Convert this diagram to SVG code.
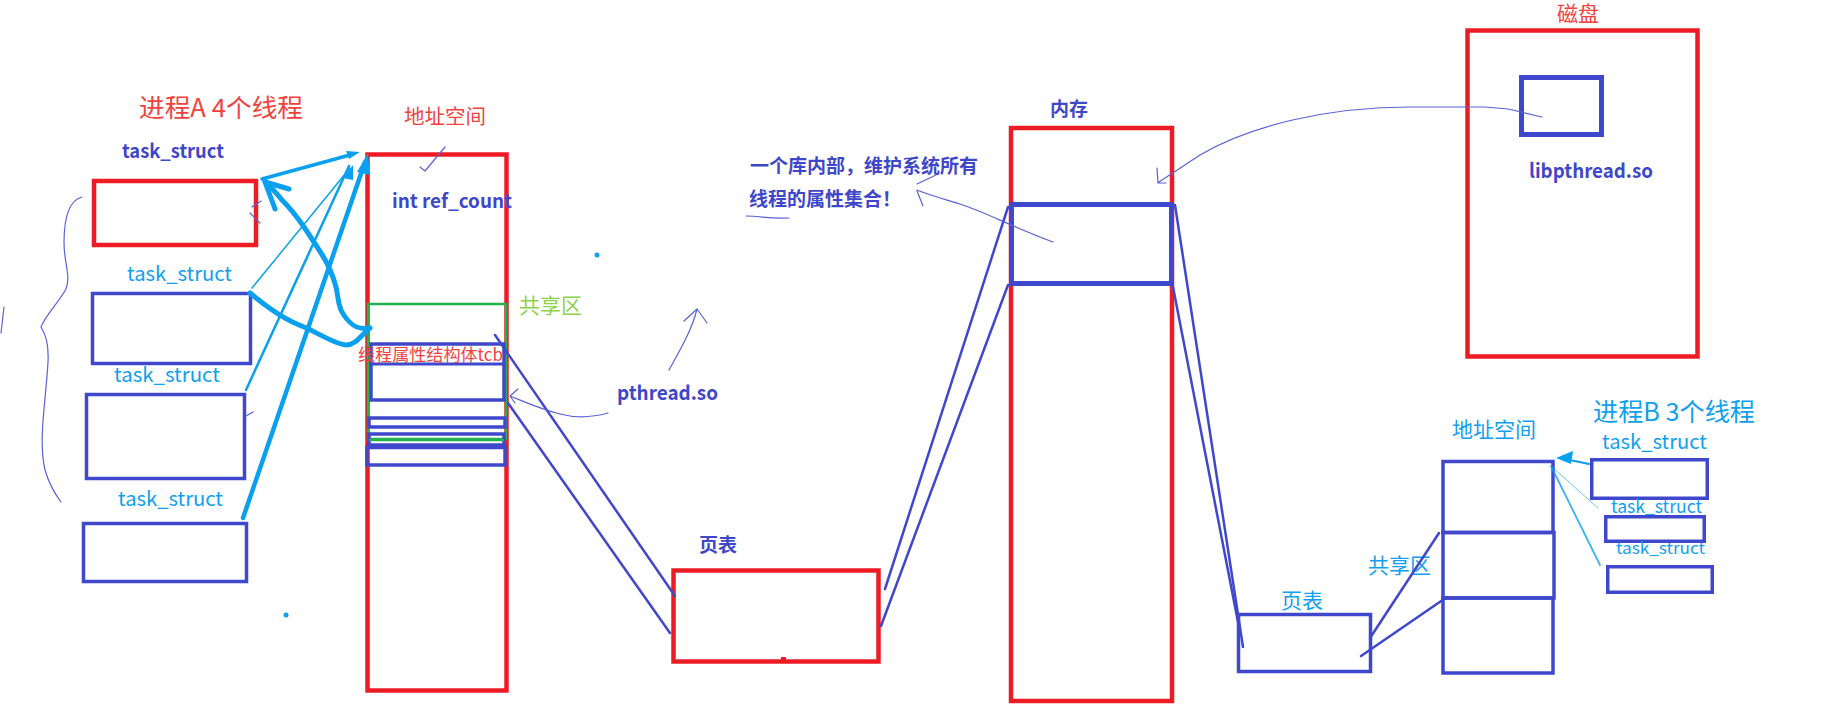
<svg xmlns="http://www.w3.org/2000/svg" width="1836" height="711" viewBox="0 0 1836 711">
<style>
.red{fill:none;stroke:#ed1c24;stroke-width:4.5}
.blue{fill:none;stroke:#3f48cc;stroke-width:3.5}
.bluek{fill:none;stroke:#3f48cc;stroke-width:5}
.grn{fill:none;stroke:#22b14c;stroke-width:2.5}
.ln{fill:none;stroke:#3f48cc;stroke-width:2.5;stroke-linecap:round}
.thin{fill:none;stroke:#5a62d6;stroke-width:1.2;stroke-linecap:round;stroke-linejoin:round}
.cy{fill:none;stroke:#0aa0f0;stroke-linecap:round;stroke-linejoin:round}
.t{font-family:"Noto Sans CJK SC","Noto Sans",sans-serif}
.tr{fill:#f0433f}
.tb{fill:#3f47c9;font-weight:bold}
.tc{fill:#10a0ee}
.tg{fill:#8ed14a}
</style>

<g id="processA">
<text class="t tr" x="139" y="117" font-size="25" textLength="164" lengthAdjust="spacingAndGlyphs">进程A 4个线程</text>
<path class="thin" d="M82,197 C70,200 64,215 64,243 C64,262 71,276 66,289 C59,302 45,316 41,327 C45,334 49,342 48,362 C46,400 38,440 45,470 C49,484 55,494 61,502"/>
<path class="thin" d="M4,307 L1,333"/>
</g>

<g id="task1">
<text class="t tb" x="122" y="158" font-size="19" textLength="102" lengthAdjust="spacingAndGlyphs">task_struct</text>
<rect class="red" x="94" y="181" width="162" height="64"/>
<path class="thin" d="M252,207 L261,201 M250,213 L260,223"/>
</g>
<g id="task2">
<text class="t tc" x="127" y="281" font-size="20" textLength="105" lengthAdjust="spacingAndGlyphs">task_struct</text>
<rect class="blue" x="92.5" y="293.5" width="158" height="70"/>
</g>
<g id="task3">
<text class="t tc" x="114" y="382" font-size="20" textLength="106" lengthAdjust="spacingAndGlyphs">task_struct</text>
<rect class="blue" x="86.5" y="394.5" width="158" height="84"/>
<path class="thin" d="M246,416 L253,412"/>
</g>
<g id="task4">
<text class="t tc" x="118" y="506" font-size="20" textLength="105" lengthAdjust="spacingAndGlyphs">task_struct</text>
<rect class="blue" x="83.5" y="523.5" width="163" height="58"/>
</g>

<g id="addrA">
<text class="t tr" x="404" y="124" font-size="20" textLength="82" lengthAdjust="spacingAndGlyphs">地址空间</text>
<rect class="red" x="367.5" y="154.5" width="139" height="536" stroke-width="5"/>
<path class="thin" d="M420,167 L425,171 L445,147"/>
<text class="t tb" x="392" y="208" font-size="19" textLength="120" lengthAdjust="spacingAndGlyphs">int ref_count</text>
<rect class="grn" x="368" y="304" width="138" height="135"/>
<text class="t tg" x="519" y="313" font-size="21" textLength="63" lengthAdjust="spacingAndGlyphs">共享区</text>
<rect class="blue" x="371" y="344" width="133" height="56" stroke-width="4"/>
<line x1="371" y1="364" x2="504" y2="364" stroke="#3f48cc" stroke-width="3"/>
<text class="t tr" x="358" y="361" font-size="17" textLength="145" lengthAdjust="spacingAndGlyphs">线程属性结构体tcb</text>
<rect class="blue" x="369" y="418" width="136" height="9" stroke-width="4.5"/>
<rect class="blue" x="369" y="434" width="135" height="11" stroke-width="4.5"/>
<rect class="blue" x="367" y="447.5" width="138" height="17.5" stroke-width="4.5"/>
<line x1="369" y1="440" x2="504" y2="440" stroke="#22b14c" stroke-width="2.5"/>
</g>

<g id="pthread">
<text class="t tb" x="617" y="400" font-size="20" textLength="101" lengthAdjust="spacingAndGlyphs">pthread.so</text>
</g>

<g id="note">
<text class="t tb" x="750" y="173" font-size="19">一个库内部，维护系统所有</text>
<text class="t tb" x="749" y="206" font-size="19">线程的属性集合！</text>
<path class="thin" d="M746,216 C760,216 770,219 789,218"/>
</g>

<g id="pagetableA">
<text class="t tb" x="699" y="552" font-size="19">页表</text>
<rect class="red" x="673.5" y="570.5" width="205" height="91" stroke-width="5"/>
<rect x="781" y="657" width="5" height="6" fill="#ed1c24"/>
</g>

<g id="memory">
<text class="t tb" x="1050" y="116" font-size="19">内存</text>
<rect class="red" x="1011" y="128" width="161" height="573"/>
<rect class="bluek" x="1011.5" y="204.5" width="160" height="79"/>
</g>

<g id="disk">
<text class="t tr" x="1557" y="21" font-size="21">磁盘</text>
<rect class="red" x="1467.5" y="30.5" width="230" height="326" stroke-width="5"/>
<rect class="bluek" x="1521.5" y="77.5" width="80" height="57"/>
<text class="t tb" x="1529" y="178" font-size="20" textLength="124" lengthAdjust="spacingAndGlyphs">libpthread.so</text>
</g>

<g id="pagetableB">
<text class="t tc" x="1281" y="608" font-size="21">页表</text>
<rect class="blue" x="1238.5" y="614.5" width="132" height="57" stroke-width="3"/>
<text class="t tc" x="1368" y="573" font-size="21">共享区</text>
</g>

<g id="addrB">
<text class="t tc" x="1452" y="437" font-size="21">地址空间</text>
<rect class="blue" x="1443" y="461.5" width="110" height="71"/>
<rect class="blue" x="1443" y="532.5" width="111" height="65.5" stroke-width="4"/>
<rect class="blue" x="1443" y="598" width="110" height="75"/>
</g>

<g id="processB">
<text class="t tc" x="1593" y="421" font-size="25" textLength="162" lengthAdjust="spacingAndGlyphs">进程B 3个线程</text>
<text class="t tc" x="1602" y="449" font-size="20" textLength="105" lengthAdjust="spacingAndGlyphs">task_struct</text>
<rect class="blue" x="1591.75" y="459.75" width="115.5" height="38.5"/>
<text class="t tc" x="1611" y="513" font-size="18" textLength="91" lengthAdjust="spacingAndGlyphs">task_struct</text>
<rect class="blue" x="1605.75" y="516.75" width="98.5" height="24.5"/>
<text class="t tc" x="1616" y="554" font-size="16" textLength="89" lengthAdjust="spacingAndGlyphs">task_struct</text>
<rect class="blue" x="1607.75" y="566.75" width="104.5" height="25.5"/>
</g>

<g id="connectors">
<path class="cy" stroke-width="3.5" d="M262,179 L350,155"/>
<path d="M360,152 L346,151 L349,159 Z" fill="#0aa0f0"/>
<path class="cy" stroke-width="1.5" d="M252,288 L350,168"/>
<path class="cy" stroke-width="2.5" d="M246,390 L349,166"/>
<path class="cy" stroke-width="4.5" d="M243,518 L365,162"/>
<path d="M368,153 L357,172 L370,175 Z" fill="#0aa0f0"/>
<path d="M353,165 L343,178 L353,180 Z" fill="#0aa0f0"/>
<path class="cy" stroke-width="5" d="M250,293 C270,310 290,322 304,327 C320,334 335,344 346,345 C356,345 360,336 370,328"/>
<path class="cy" stroke-width="5" d="M368,328 C358,330 348,324 341,310 C337,300 338,294 336,287 C332,272 327,262 321,253 C314,242 310,236 304,227 C295,214 288,206 282,200 C276,193 272,188 265,181"/>
<path class="cy" stroke-width="5" d="M275,209 L265,182 L289,189"/>
<circle cx="286" cy="615" r="2.5" fill="#0aa0f0"/>
<circle cx="597" cy="255" r="2.5" fill="#0aa0f0"/>
<path class="ln" d="M495,335 L675,596"/>
<path class="ln" d="M508,403 L670,633"/>
<path class="thin" d="M608,413 C590,418 575,418 560,414 C540,409 525,402 510,396 M510,396 L518,389 M510,396 L515,403"/>
<path class="thin" d="M669,370 C680,350 692,330 697,309 M697,309 L684,321 M697,309 L707,323"/>
<path class="ln" d="M885,589 L1008,207"/>
<path class="ln" d="M881,626 L1008,285"/>
<path class="ln" d="M1175,205 L1243,647"/>
<path class="ln" d="M1173,287 L1238,622"/>
<path class="ln" d="M1370,638 L1439,533"/>
<path class="ln" d="M1361,656 L1447,597"/>
<path class="thin" d="M1053,242 C1010,226 985,212 960,204 C940,198 926,194 917,190 M917,191 L923,206 M917,184 L936,175"/>
<path class="thin" d="M1542,117 L1508,109 L1485,107 L1410,107 C1330,107 1250,125 1200,155 L1159,182 M1157,168 L1158,183 L1166,183"/>
<path class="cy" stroke-width="2" d="M1589,464 L1565,459"/>
<path d="M1556,458 L1573,451 L1571,464 Z" fill="#0aa0f0"/>
<path class="cy" stroke-width="1" d="M1598,508 L1551,466" opacity="0.6"/>
<path class="cy" stroke-width="1.8" d="M1600,565 L1551,466" opacity="0.8"/>
</g>
</svg>
